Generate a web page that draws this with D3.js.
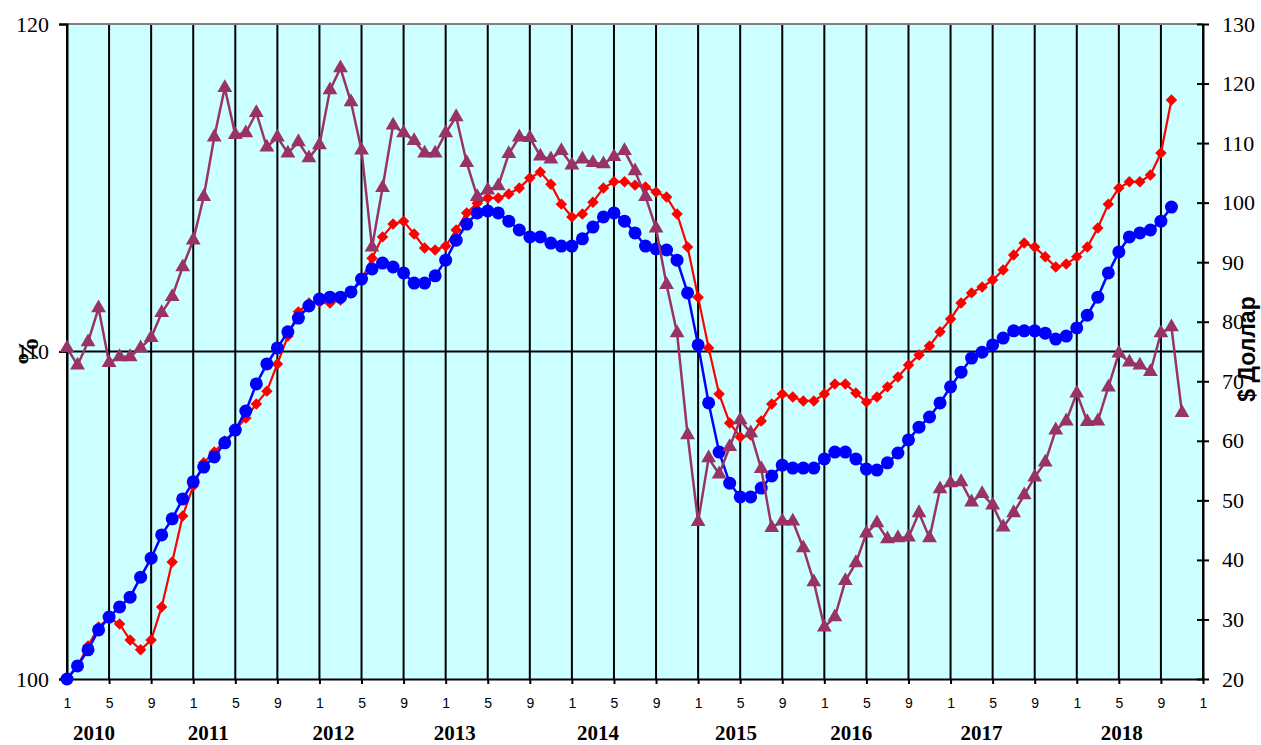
<!DOCTYPE html>
<html lang="ru">
<head>
<meta charset="UTF-8">
<title>Chart</title>
<style>
  body { margin: 0; background: #fff; }
</style>
</head>
<body>
<script src="https://d3js.org/d3.v7.min.js"></script>
<div id="chart"></div>
<script>
// months are counted from Jan 2010 (index 0)
var years = [2010, 2011, 2012, 2013, 2014, 2015, 2016, 2017, 2018]
var monthTicks = [1, 5, 9]

// blue circles, left axis (%)
var blueValues = [
  100.00, 100.40, 100.89, 101.50, 101.89, 102.20, 102.50, 103.11, 103.69, 104.40, 104.89, 105.50,
  106.02, 106.47, 106.78, 107.21, 107.60, 108.18, 109.01, 109.62, 110.11, 110.60, 111.02, 111.39,
  111.60, 111.66, 111.66, 111.82, 112.21, 112.52, 112.70, 112.58, 112.40, 112.09, 112.09, 112.31,
  112.79, 113.40, 113.89, 114.23, 114.29, 114.23, 113.98, 113.71, 113.50, 113.50, 113.31, 113.22,
  113.22, 113.44, 113.80, 114.11, 114.23, 113.98, 113.62, 113.22, 113.13, 113.10, 112.79, 111.79,
  110.20, 108.43, 106.93, 105.98, 105.56, 105.56, 105.83, 106.20, 106.53, 106.44, 106.44, 106.44,
  106.72, 106.93, 106.93, 106.72, 106.41, 106.38, 106.60, 106.90, 107.30, 107.69, 108.00, 108.43,
  108.92, 109.37, 109.80, 109.98, 110.20, 110.41, 110.63, 110.63, 110.63, 110.56, 110.38, 110.47,
  110.72, 111.11, 111.66, 112.40, 113.04, 113.50, 113.62, 113.71, 113.98, 114.41
]

// red diamonds, left axis (%)
var redValues = [
  100.00, 100.40, 101.01, 101.59, 101.86, 101.68, 101.19, 100.89, 101.19, 102.20, 103.57, 104.98,
  105.89, 106.60, 106.93, 107.27, 107.60, 107.97, 108.40, 108.79, 109.62, 110.47, 111.21, 111.48,
  111.51, 111.48, 111.57, 111.79, 112.18, 112.85, 113.50, 113.89, 113.98, 113.59, 113.16, 113.10,
  113.22, 113.71, 114.23, 114.53, 114.69, 114.69, 114.81, 114.99, 115.30, 115.48, 115.11, 114.50,
  114.11, 114.20, 114.56, 114.99, 115.18, 115.18, 115.08, 115.02, 114.87, 114.72, 114.20, 113.19,
  111.66, 110.11, 108.70, 107.82, 107.39, 107.45, 107.88, 108.40, 108.70, 108.61, 108.49, 108.49,
  108.70, 109.01, 109.01, 108.73, 108.46, 108.61, 108.92, 109.22, 109.59, 109.89, 110.17, 110.60,
  110.99, 111.48, 111.79, 111.97, 112.18, 112.49, 112.95, 113.31, 113.19, 112.89, 112.58, 112.67,
  112.89, 113.19, 113.77, 114.50, 114.99, 115.18, 115.18, 115.39, 116.06, 117.68
]

// purple triangles, right axis ($)
var oilValues = [
  75.6, 72.7, 76.6, 82.3, 73.1, 74.1, 74.1, 75.6, 77.3, 81.5, 84.2, 89.2,
  93.7, 101.0, 111.0, 119.3, 111.4, 111.7, 115.1, 109.3, 111.0, 108.3, 110.2, 107.5,
  109.7, 118.9, 122.6, 116.9, 108.8, 92.5, 102.5, 113.0, 111.7, 110.4, 108.3, 108.3,
  111.7, 114.4, 106.7, 101.0, 102.1, 102.8, 108.2, 111.0, 110.9, 107.8, 107.3, 108.7,
  106.3, 107.3, 106.7, 106.5, 107.7, 108.7, 105.3, 101.0, 95.7, 86.2, 78.1, 61.0,
  46.4, 57.1, 54.4, 59.0, 63.5, 61.3, 55.3, 45.4, 46.5, 46.5, 42.0, 36.3,
  28.7, 30.4, 36.5, 39.5, 44.5, 46.2, 43.5, 43.7, 43.8, 47.9, 43.7, 51.9,
  52.9, 53.1, 49.7, 51.1, 49.2, 45.5, 47.9, 50.9, 53.9, 56.4, 61.8, 63.3,
  68.0, 63.2, 63.3, 69.0, 74.7, 73.2, 72.7, 71.6, 78.1, 79.1, 64.7
]

var leftTicks = [100, 110, 120]
var rightTicks = [20, 30, 40, 50, 60, 70, 80, 90, 100, 110, 120, 130]

var width = 1261
var height = 745
var plotLeft = 67, plotRight = 1203, plotTop = 24, plotBottom = 679
// year labels are not centred the same way in every year (pixels from January)
var yearLabelShift = [27, 15, 14, 9, 26, 38, 27, 31, 45]
var serif = "'Liberation Serif', 'Times New Roman', serif"

var svg = d3.select("#chart")
  .append("svg")
  .attr("width", width)
  .attr("height", height)
  .style("font-family", serif)

var x = d3.scaleLinear().domain([0, 108]).range([plotLeft, plotRight])
var yLeft = d3.scaleLinear().domain([100, 120]).range([plotBottom, plotTop])
var yRight = d3.scaleLinear().domain([20, 130]).range([plotBottom, plotTop])

// background
svg.append("rect")
  .attr("x", plotLeft).attr("y", plotTop)
  .attr("width", plotRight - plotLeft).attr("height", plotBottom - plotTop)
  .attr("fill", "#CCFFFF")

// vertical grid every 4 months
var gridMonths = d3.range(0, 109, 4)
svg.append("g")
  .selectAll("line")
  .data(gridMonths)
  .enter()
  .append("line")
  .attr("x1", function (d) { return x(d) })
  .attr("x2", function (d) { return x(d) })
  .attr("y1", plotTop)
  .attr("y2", plotBottom)
  .attr("stroke", "#000")
  .attr("stroke-width", 2)

// horizontal line at 110
svg.append("line")
  .attr("x1", plotLeft).attr("x2", plotRight)
  .attr("y1", yLeft(110)).attr("y2", yLeft(110))
  .attr("stroke", "#000").attr("stroke-width", 2)

// top border
svg.append("line")
  .attr("x1", plotLeft).attr("x2", plotRight)
  .attr("y1", plotTop).attr("y2", plotTop)
  .attr("stroke", "#808080").attr("stroke-width", 2)

// left axis
var leftAxis = svg.append("g")
  .attr("transform", "translate(" + plotLeft + ",0)")
  .call(d3.axisLeft(yLeft).tickValues(leftTicks).tickSize(8).tickPadding(10).tickFormat(d3.format("d")))
  .attr("font-family", serif)
leftAxis.select(".domain").attr("stroke-width", 2).attr("stroke", "#000")
leftAxis.selectAll(".tick line").attr("stroke-width", 2)
leftAxis.selectAll("text").style("font-size", "22px").attr("fill", "#000")
  .style("font-family", serif)

// right axis
var rightAxis = svg.append("g")
  .attr("transform", "translate(" + plotRight + ",0)")
  .call(d3.axisRight(yRight).tickValues(rightTicks).tickSizeInner(6).tickSizeOuter(0).tickPadding(13))
  .attr("font-family", serif)
rightAxis.select(".domain").attr("stroke-width", 2).attr("stroke", "#000")
rightAxis.selectAll(".tick line").attr("x1", -6).attr("stroke-width", 2)
rightAxis.selectAll("text").style("font-size", "22px").attr("fill", "#000")
  .style("font-family", serif)

// bottom axis
var bottomAxis = svg.append("g")
  .attr("transform", "translate(0," + plotBottom + ")")
  .call(d3.axisBottom(x).tickValues(gridMonths).tickSizeInner(5).tickSizeOuter(0).tickPadding(14)
    .tickFormat(function (d) { return monthTicks[(d % 12) / 4] }))
bottomAxis.select(".domain").attr("stroke-width", 2).attr("stroke", "#000")
bottomAxis.selectAll(".tick line").attr("stroke-width", 2)
bottomAxis.selectAll("text").style("font-size", "14px").attr("fill", "#000")
  .style("font-family", "'Liberation Sans', Arial, sans-serif")

// year labels
svg.append("g")
  .selectAll("text")
  .data(years)
  .enter()
  .append("text")
  .attr("x", function (d, i) { return x(i * 12) + yearLabelShift[i] })
  .attr("y", 740)
  .attr("text-anchor", "middle")
  .style("font-size", "21px")
  .style("font-weight", "bold")
  .text(function (d) { return d })

// axis titles
svg.append("text")
  .attr("transform", "translate(38," + yLeft(110) + ") rotate(-90)")
  .attr("text-anchor", "middle")
  .style("font-size", "30px")
  .style("font-weight", "bold")
  .text("%")

svg.append("text")
  .attr("transform", "translate(1255," + 349 + ") rotate(-90)")
  .attr("text-anchor", "middle")
  .style("font-family", "'Liberation Sans', Arial, sans-serif")
  .style("font-size", "23px")
  .style("font-weight", "bold")
  .text("$ Доллар")

// series
var redLine = d3.line().x(function (d, i) { return x(i) }).y(function (d) { return yLeft(d) })
var blueLine = d3.line().x(function (d, i) { return x(i) }).y(function (d) { return yLeft(d) })
var oilLine = d3.line().x(function (d, i) { return x(i) }).y(function (d) { return yRight(d) })

// red diamonds
svg.append("path").datum(redValues)
  .attr("d", redLine).attr("fill", "none").attr("stroke", "#FF0000").attr("stroke-width", 2.2)
svg.append("g").selectAll("path")
  .data(redValues).enter().append("path")
  .attr("d", d3.symbol().type(d3.symbolSquare).size(66))
  .attr("transform", function (d, i) { return "translate(" + x(i) + "," + yLeft(d) + ") rotate(45)" })
  .attr("fill", "#FF0000")

// blue circles
svg.append("path").datum(blueValues)
  .attr("d", blueLine).attr("fill", "none").attr("stroke", "#0000FF").attr("stroke-width", 2.5)
svg.append("g").selectAll("circle")
  .data(blueValues).enter().append("circle")
  .attr("cx", function (d, i) { return x(i) })
  .attr("cy", function (d) { return yLeft(d) })
  .attr("r", 6.5)
  .attr("fill", "#0000FF")

// purple triangles
svg.append("path").datum(oilValues)
  .attr("d", oilLine).attr("fill", "none").attr("stroke", "#993366").attr("stroke-width", 2.5)
svg.append("g").selectAll("path")
  .data(oilValues).enter().append("path")
  .attr("d", d3.symbol().type(d3.symbolTriangle).size(95))
  .attr("transform", function (d, i) { return "translate(" + x(i) + "," + yRight(d) + ")" })
  .attr("fill", "#993366")
</script>
</body>
</html>
